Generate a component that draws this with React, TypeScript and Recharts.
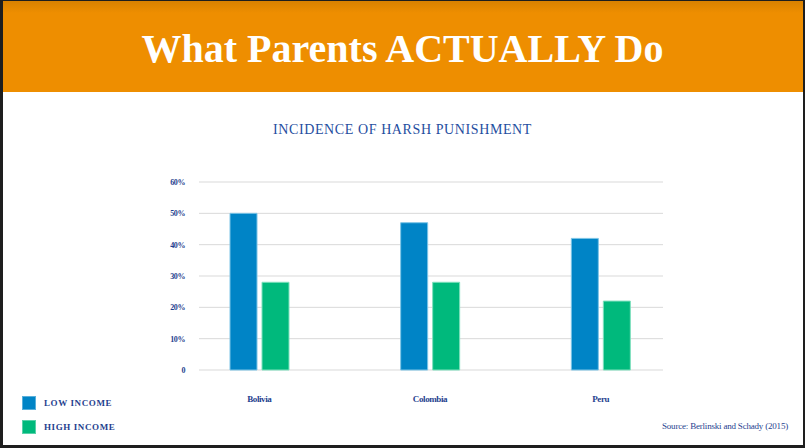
import { Bar, BarChart, CartesianGrid, XAxis, YAxis } from "recharts";

const countries = ["Bolivia", "Colombia", "Peru"];
const lowIncome = [50, 47, 42];
const highIncome = [28, 28, 22];
const yTicks = [0, 10, 20, 30, 40, 50, 60];

const data = countries.map((country, i) => ({
  country,
  low: lowIncome[i],
  high: highIncome[i],
}));

const BLUE = "#0084c6";
const GREEN = "#00b97c";
const TEXT = "#1f3f8f";
const SERIF = "'Liberation Serif', 'Times New Roman', serif";

function LegendItem({ color, label, top }: { color: string; label: string; top: number }) {
  return (
    <div style={{ position: "absolute", left: 22, top, display: "flex", alignItems: "center" }}>
      <span style={{ display: "inline-block", width: 14, height: 14, background: color, boxShadow: "inset 0 0 0 1px rgba(255,255,255,0.35)" }} />
      <span
        style={{
          marginLeft: 8,
          fontFamily: SERIF,
          fontWeight: "bold",
          fontSize: 9,
          letterSpacing: 0.6,
          color: TEXT,
        }}
      >
        {label}
      </span>
    </div>
  );
}

export default function App() {
  return (
    <div style={{ position: "fixed", left: 0, top: 0, width: 805, height: 448, background: "#1e1e1e", overflow: "hidden" }}>
      <div style={{ position: "absolute", left: 3, top: 1, width: 800, height: 444, background: "#ffffff" }} />
      <div
        style={{
          position: "absolute",
          left: 3,
          top: 1,
          width: 800,
          height: 91,
          background: "linear-gradient(#d98100 0px, #ee8e00 12px, #ee8e00 100%)",
        }}
      />
      <div
        style={{
          position: "absolute",
          left: 0,
          top: 25,
          width: 805,
          textAlign: "center",
          fontFamily: SERIF,
          fontWeight: "bold",
          fontSize: 40,
          color: "#ffffff",
        }}
      >
        What Parents ACTUALLY Do
      </div>
      <div
        style={{
          position: "absolute",
          left: 0,
          top: 122,
          width: 805,
          textAlign: "center",
          fontFamily: SERIF,
          fontSize: 14,
          letterSpacing: 0.6,
          color: "#1f4e9f",
        }}
      >
        INCIDENCE OF HARSH PUNISHMENT
      </div>
      <div style={{ position: "absolute", left: 0, top: 0 }}>
        <BarChart
          width={805}
          height={448}
          data={data}
          margin={{ top: 182, right: 142, bottom: 38, left: 135 }}
          barSize={27}
          barGap={5}
        >
          <CartesianGrid vertical={false} stroke="#d9d9d9" strokeWidth={1} />
          <XAxis
            dataKey="country"
            axisLine={false}
            tickLine={false}
            padding={{ left: -25, right: -23 }}
            tick={{ fill: TEXT, fontSize: 9, fontWeight: "bold", fontFamily: SERIF, letterSpacing: -0.4 }}
            tickMargin={20}
            height={40}
          />
          <YAxis
            domain={[0, 60]}
            ticks={yTicks}
            axisLine={false}
            tickLine={false}
            width={64}
            tickMargin={8}
            tickFormatter={(v: number) => (v === 0 ? "0" : `${v}%`)}
            tick={{ fill: TEXT, fontSize: 8, fontWeight: "bold", fontFamily: SERIF, letterSpacing: -0.4 }}
          />
          <Bar dataKey="low" fill={BLUE} stroke="#7cc4e6" strokeWidth={1} isAnimationActive={false} />
          <Bar dataKey="high" fill={GREEN} stroke="#7fe0bd" strokeWidth={1} isAnimationActive={false} />
        </BarChart>
      </div>
      <LegendItem color={BLUE} label="LOW INCOME" top={396} />
      <LegendItem color={GREEN} label="HIGH INCOME" top={420} />
      <div
        style={{
          position: "absolute",
          right: 17,
          top: 421,
          fontFamily: SERIF,
          fontSize: 9,
          letterSpacing: -0.2,
          color: TEXT,
        }}
      >
        Source: Berlinski and Schady (2015)
      </div>
    </div>
  );
}
